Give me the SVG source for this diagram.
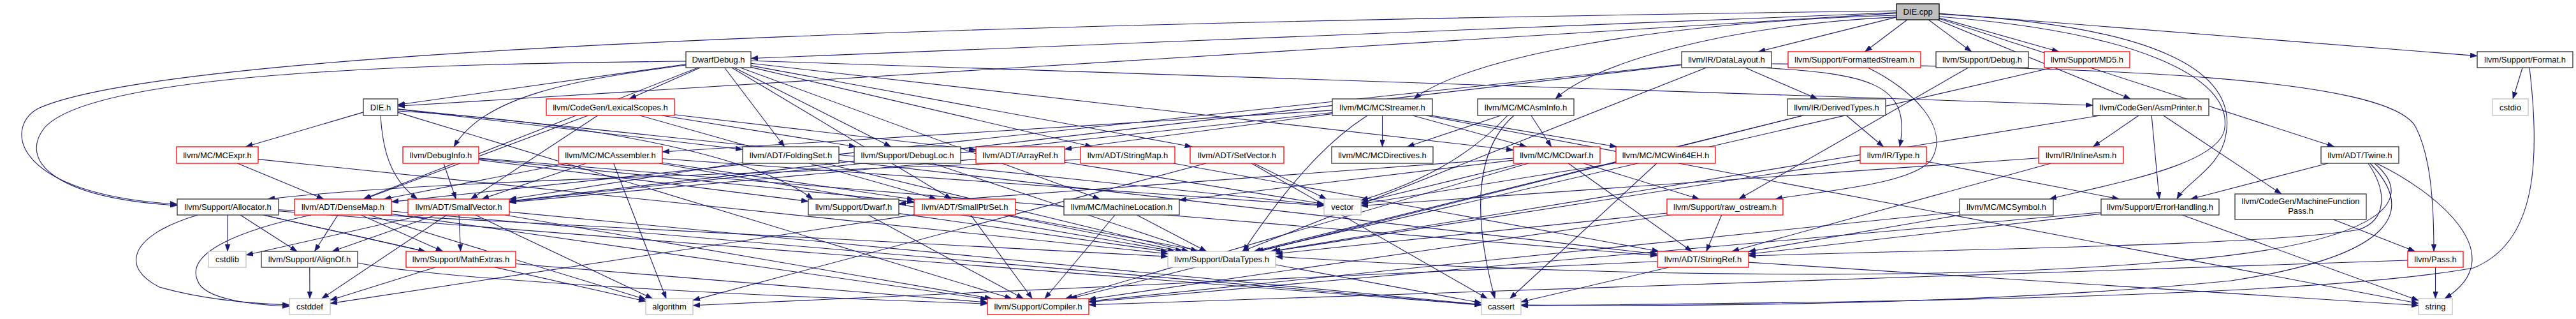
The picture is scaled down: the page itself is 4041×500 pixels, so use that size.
<svg xmlns="http://www.w3.org/2000/svg" width="4041" height="500" viewBox="0 0 4041 500">
<style>
.edges path{fill:none;stroke:#191970;stroke-width:1.1}
rect.nb{fill:#fff;stroke:#333;stroke-width:1.3}
rect.nr{fill:#fff;stroke:#ff0000;stroke-width:1.3}
rect.ng{fill:#fff;stroke:#bfbfbf;stroke-width:1.3}
rect.root{fill:#bfbfbf;stroke:#000;stroke-width:1.3}
text{font-family:"Liberation Sans",Arial,Helvetica,sans-serif;font-size:13px;fill:#000;text-anchor:middle}
</style>
<defs>
<marker id="arr" viewBox="0 0 11 8" refX="11" refY="4" markerWidth="11" markerHeight="8" markerUnits="userSpaceOnUse" orient="auto">
<path d="M0,0 L11,4 L0,8 z" fill="#191970" stroke="#191970" stroke-width="0.5"/>
</marker>
</defs>
<rect x="0" y="0" width="4041" height="500" fill="#fff"/>
<g id="edges" class="edges" marker-end="url(#arr)">
<path d="M2975,20.6 L624,166.3"/>
<path d="M2975,19.8 L1178,91.5"/>
<path d="M3042,29.3 L3661.8,230"/>
<path d="M3039,31 L3342.2,155"/>
<path d="M2975,26.9 L2758.5,81"/>
<path d="M2975,26.6 C2700,40 2500,100 2440,155"/>
<path d="M2975,24 C2600,35 2300,90 2218,155"/>
<path d="M3042,26 C3350,50 3500,120 3490,200 C3485,260 3300,290 3215,312"/>
<path d="M2975,17 C2000,30 300,60 60,170 C5,200 20,305 278,320"/>
<path d="M3025.3,31 L3092.7,81"/>
<path d="M3042,22 C3380,40 3510,110 3492,210 C3485,262 3430,285 3415,312"/>
<path d="M3042,21.1 L3886,87.6"/>
<path d="M2991.9,31 L2925.6,81"/>
<path d="M3042,28 L3229.7,81"/>
<path d="M1076,100.7 L624,164.2"/>
<path d="M1095.1,106 L569.9,312"/>
<path d="M1136.5,106 L1230.6,230"/>
<path d="M1178,102.9 L1869.7,230"/>
<path d="M1147.9,106 L1492.6,312"/>
<path d="M1178,105.4 L1713.2,230"/>
<path d="M1178,95.2 L3283,165"/>
<path d="M1098.6,106 L987.1,155"/>
<path d="M1076,102 C900,125 760,150 712,230"/>
<path d="M1161.2,106 L1725.3,312"/>
<path d="M1178,99.3 L2374,235.3"/>
<path d="M1076,96 C700,100 150,110 70,200 C30,250 80,310 278,322"/>
<path d="M1151.8,106 L1397.7,230"/>
<path d="M624,171.1 L1165,234.2"/>
<path d="M597,181 C600,230 610,280 655,312"/>
<path d="M624,174 C900,190 1180,240 1275,312"/>
<path d="M570,175.9 L385.4,230"/>
<path d="M624,170.8 L2077,321.5"/>
<path d="M624,176.1 L1587.2,468"/>
<path d="M1058,179.7 L1531,234.9"/>
<path d="M922.7,181 L571.5,312"/>
<path d="M1003.6,181 L1469.1,312"/>
<path d="M937.7,181 L738.5,312"/>
<path d="M1038.1,181 L1342.7,230"/>
<path d="M696,256 L715.2,312"/>
<path d="M751,248.9 L1434,316.6"/>
<path d="M751,250.5 L1268,315.6"/>
<path d="M751,247.9 L2600,400.6"/>
<path d="M372.5,256 L507.8,312"/>
<path d="M405,249.6 L1832,397.7"/>
<path d="M962.6,256 L1045.1,468"/>
<path d="M890.5,256 L602.3,312"/>
<path d="M919.5,256 L756,312"/>
<path d="M1039,255 L1434,312.8"/>
<path d="M1033.7,256 L1843.1,394"/>
<path d="M1039,248.8 L2077,322.4"/>
<path d="M1165,254.8 L799,312.3"/>
<path d="M1316,251.6 L2600,398.3"/>
<path d="M1294.2,256 L1864.8,394"/>
<path d="M1462.7,256 L1878.8,394"/>
<path d="M1531,249.4 L799,317.1"/>
<path d="M1670,254.2 L2077,319.8"/>
<path d="M1840.8,256 L2602.5,394"/>
<path d="M1695,250 C1200,275 700,280 420,312"/>
<path d="M1891.8,256 L1087,470.6"/>
<path d="M1963.2,256 L2333.2,468"/>
<path d="M1967,256 L2080.7,312"/>
<path d="M2090,178.4 L1670,233.8"/>
<path d="M2090,176.5 L799,315.9"/>
<path d="M2090,172.9 L1039,238"/>
<path d="M2168.5,181 L2168.5,230"/>
<path d="M2215.8,181 L2394.7,230"/>
<path d="M2245.4,181 L2536.1,230"/>
<path d="M2145,181 C2100,210 2040,260 1950,394"/>
<path d="M2237.2,181 L3794,475.5"/>
<path d="M2354.5,181 L2207.5,230"/>
<path d="M2401.9,181 L2433.6,230"/>
<path d="M2375,181 C2330,220 2300,300 2345,468"/>
<path d="M2365,181 C2320,230 2250,280 2135,314"/>
<path d="M2374,251.1 L1850,313.7"/>
<path d="M2484.2,256 L2665.6,312"/>
<path d="M2460.2,256 L2653.9,394"/>
<path d="M2388.2,256 L2135,317.5"/>
<path d="M2397.5,256 L1671.3,468"/>
<path d="M2374,248 L1410,319.3"/>
<path d="M2535,255.5 L2135,319.8"/>
<path d="M2598.9,256 L2368.6,468"/>
<path d="M2737.5,106 L2850.9,155"/>
<path d="M2760,106 C2930,115 3000,130 2980,230"/>
<path d="M2638,101 L614,316.4"/>
<path d="M2638,101.7 L799,315.3"/>
<path d="M2779,100 C3300,105 3750,120 3790,200 C3810,240 3818,300 3818,394"/>
<path d="M2676.9,106 L1948.1,394"/>
<path d="M2896.4,181 L2954.6,230"/>
<path d="M2828.4,181 L1967,394"/>
<path d="M2828.9,181 L1678.6,468"/>
<path d="M2918,251.1 L1997.1,394"/>
<path d="M3022,253.1 L3324.4,312"/>
<path d="M3393.6,181 L3578.9,304"/>
<path d="M3355,181 L3283.5,230"/>
<path d="M3294.6,181 L1992.9,394"/>
<path d="M3375.2,181 L3387.3,312"/>
<path d="M3217.4,256 L2716.9,394"/>
<path d="M3198,247.7 L2135,322.5"/>
<path d="M3715,256 C3745,300 3745,345 3700,360 C3550,385 3100,390 2743,401"/>
<path d="M3725,256 C3800,320 3720,385 3400,410 C3000,445 2400,428 2001,402"/>
<path d="M3651.8,256 L3436.5,312"/>
<path d="M3718,256 C3790,330 3760,400 3500,440 C3100,480 2600,480 2386,478"/>
<path d="M3728,256 C3820,300 3945,400 3835,468"/>
<path d="M3660.3,344 L3788.5,394"/>
<path d="M3820.5,419 L3820.5,468"/>
<path d="M3777,408 L1708,477.8"/>
<path d="M3296,335.1 L2743,398.3"/>
<path d="M3296,332.7 L1708,473.5"/>
<path d="M3423.1,337 L3794,470.9"/>
<path d="M3075,337 L2743,394.2"/>
<path d="M3074,332 L1708,472.3"/>
<path d="M2700.7,337 L2676.8,394"/>
<path d="M2619.8,337 L1708,469"/>
<path d="M2615,334 L2001,397.7"/>
<path d="M3087.7,106 L2727.8,312"/>
<path d="M2930,106 C3000,140 3060,200 3030,250 C3000,290 2850,300 2785,312"/>
<path d="M3219.8,106 L1970.7,394"/>
<path d="M3957.1,106 L3942,155"/>
<path d="M3968,106 C3985,250 3980,380 3880,420 C3600,470 2800,475 2386,479"/>
<path d="M377,337 L466,394"/>
<path d="M357,337 L357,394"/>
<path d="M310,337 C200,370 190,420 250,450 C320,470 400,476 454,478"/>
<path d="M413.2,337 L667.3,394"/>
<path d="M437,328.7 L1832,402.1"/>
<path d="M412.9,337 L1013,472.2"/>
<path d="M437,330.7 L2324,478.1"/>
<path d="M530,337 L493.5,394"/>
<path d="M566.2,337 L694.8,394"/>
<path d="M614,335.4 L1549,469.1"/>
<path d="M579,337 L1013,469.2"/>
<path d="M614,331 L2324,477.8"/>
<path d="M488,337 C380,360 290,395 310,440 C320,470 400,478 454,480"/>
<path d="M683.8,337 L521.2,394"/>
<path d="M720,337 L722.5,394"/>
<path d="M664.2,337 L386,399.8"/>
<path d="M745.9,337 L1023.6,468"/>
<path d="M792.2,337 L1555.8,468"/>
<path d="M799,332.1 L2324,477.5"/>
<path d="M700.8,337 L504.7,468"/>
<path d="M1362.2,337 L1605.3,468"/>
<path d="M1410,334.6 L1832,394.5"/>
<path d="M1522.7,337 L1619.3,468"/>
<path d="M1574.9,337 L1855.1,394"/>
<path d="M1580.8,337 L2324,474.8"/>
<path d="M1434,336.6 L518,475.6"/>
<path d="M1749,337 L1639,468"/>
<path d="M1783.4,337 L1892.6,394"/>
<path d="M485.8,419 L486,468"/>
<path d="M561,412 C700,440 1200,465 1549,476"/>
<path d="M683,419 L518,470.5"/>
<path d="M809,413.5 L1549,474"/>
<path d="M2618,419 L2386,473.3"/>
<path d="M2600,409.8 L1087,478.8"/>
<path d="M2743,411.1 L3794,478.8"/>
</g>
<g id="n-die-cpp"><rect class="root" x="2975" y="6" width="67" height="25"/><text x="3008.5" y="23">DIE.cpp</text></g>
<g id="n-dwarfdebug"><rect class="nb" x="1076" y="81" width="102" height="25"/><text x="1127" y="98">DwarfDebug.h</text></g>
<g id="n-datalayout"><rect class="nb" x="2638" y="81" width="141" height="25"/><text x="2708.5" y="98">llvm/IR/DataLayout.h</text></g>
<g id="n-formattedstream"><rect class="nr" x="2805" y="81" width="208" height="25"/><text x="2909" y="98">llvm/Support/FormattedStream.h</text></g>
<g id="n-debug"><rect class="nb" x="3037" y="81" width="145" height="25"/><text x="3109.5" y="98">llvm/Support/Debug.h</text></g>
<g id="n-md5"><rect class="nr" x="3207" y="81" width="134" height="25"/><text x="3274" y="98">llvm/Support/MD5.h</text></g>
<g id="n-format"><rect class="nb" x="3886" y="81" width="150" height="25"/><text x="3961" y="98">llvm/Support/Format.h</text></g>
<g id="n-die-h"><rect class="nb" x="570" y="155" width="54" height="26"/><text x="597" y="172.5">DIE.h</text></g>
<g id="n-lexicalscopes"><rect class="nr" x="857" y="155" width="201" height="26"/><text x="957.5" y="172.5">llvm/CodeGen/LexicalScopes.h</text></g>
<g id="n-mcstreamer"><rect class="nb" x="2090" y="155" width="157" height="26"/><text x="2168.5" y="172.5">llvm/MC/MCStreamer.h</text></g>
<g id="n-mcasminfo"><rect class="nb" x="2318" y="155" width="151" height="26"/><text x="2393.5" y="172.5">llvm/MC/MCAsmInfo.h</text></g>
<g id="n-derivedtypes"><rect class="nb" x="2804" y="155" width="154" height="26"/><text x="2881" y="172.5">llvm/IR/DerivedTypes.h</text></g>
<g id="n-asmprinter"><rect class="nb" x="3283" y="155" width="182" height="26"/><text x="3374" y="172.5">llvm/CodeGen/AsmPrinter.h</text></g>
<g id="n-cstdio"><rect class="ng" x="3910" y="155" width="56" height="26"/><text x="3938" y="172.5">cstdio</text></g>
<g id="n-mcexpr"><rect class="nr" x="277" y="230" width="128" height="26"/><text x="341" y="247.5">llvm/MC/MCExpr.h</text></g>
<g id="n-debuginfo"><rect class="nr" x="632" y="230" width="119" height="26"/><text x="691.5" y="247.5">llvm/DebugInfo.h</text></g>
<g id="n-mcassembler"><rect class="nr" x="876" y="230" width="163" height="26"/><text x="957.5" y="247.5">llvm/MC/MCAssembler.h</text></g>
<g id="n-foldingset"><rect class="nb" x="1165" y="230" width="151" height="26"/><text x="1240.5" y="247.5">llvm/ADT/FoldingSet.h</text></g>
<g id="n-debugloc"><rect class="nb" x="1340" y="230" width="167" height="26"/><text x="1423.5" y="247.5">llvm/Support/DebugLoc.h</text></g>
<g id="n-arrayref"><rect class="nr" x="1531" y="230" width="139" height="26"/><text x="1600.5" y="247.5">llvm/ADT/ArrayRef.h</text></g>
<g id="n-stringmap"><rect class="nr" x="1695" y="230" width="148" height="26"/><text x="1769" y="247.5">llvm/ADT/StringMap.h</text></g>
<g id="n-setvector"><rect class="nr" x="1867" y="230" width="147" height="26"/><text x="1940.5" y="247.5">llvm/ADT/SetVector.h</text></g>
<g id="n-mcdirectives"><rect class="nb" x="2089" y="230" width="159" height="26"/><text x="2168.5" y="247.5">llvm/MC/MCDirectives.h</text></g>
<g id="n-mcdwarf"><rect class="nr" x="2374" y="230" width="136" height="26"/><text x="2442" y="247.5">llvm/MC/MCDwarf.h</text></g>
<g id="n-mcwin64eh"><rect class="nr" x="2535" y="230" width="156" height="26"/><text x="2613" y="247.5">llvm/MC/MCWin64EH.h</text></g>
<g id="n-type"><rect class="nr" x="2918" y="230" width="104" height="26"/><text x="2970" y="247.5">llvm/IR/Type.h</text></g>
<g id="n-inlineasm"><rect class="nr" x="3198" y="230" width="133" height="26"/><text x="3264.5" y="247.5">llvm/IR/InlineAsm.h</text></g>
<g id="n-twine"><rect class="nb" x="3641" y="230" width="122" height="26"/><text x="3702" y="247.5">llvm/ADT/Twine.h</text></g>
<g id="n-allocator"><rect class="nb" x="278" y="312" width="159" height="25"/><text x="357.5" y="329">llvm/Support/Allocator.h</text></g>
<g id="n-densemap"><rect class="nr" x="462" y="312" width="152" height="25"/><text x="538" y="329">llvm/ADT/DenseMap.h</text></g>
<g id="n-smallvector"><rect class="nr" x="640" y="312" width="159" height="25"/><text x="719.5" y="329">llvm/ADT/SmallVector.h</text></g>
<g id="n-dwarf"><rect class="nb" x="1268" y="312" width="142" height="25"/><text x="1339" y="329">llvm/Support/Dwarf.h</text></g>
<g id="n-smallptrset"><rect class="nr" x="1434" y="312" width="159" height="25"/><text x="1513.5" y="329">llvm/ADT/SmallPtrSet.h</text></g>
<g id="n-machinelocation"><rect class="nb" x="1669" y="312" width="181" height="25"/><text x="1759.5" y="329">llvm/MC/MachineLocation.h</text></g>
<g id="n-vector"><rect class="ng" x="2077" y="312" width="58" height="25"/><text x="2106" y="329">vector</text></g>
<g id="n-raw-ostream"><rect class="nr" x="2615" y="312" width="182" height="25"/><text x="2706" y="329">llvm/Support/raw_ostream.h</text></g>
<g id="n-mcsymbol"><rect class="nb" x="3074" y="312" width="147" height="25"/><text x="3147.5" y="329">llvm/MC/MCSymbol.h</text></g>
<g id="n-errorhandling"><rect class="nb" x="3296" y="312" width="185" height="25"/><text x="3388.5" y="329">llvm/Support/ErrorHandling.h</text></g>
<g id="n-machinefunctionpass"><rect class="nb" x="3506" y="304" width="206" height="40"/><text x="3609" y="320">llvm/CodeGen/MachineFunction</text><text x="3609" y="335">Pass.h</text></g>
<g id="n-cstdlib"><rect class="ng" x="327" y="394" width="59" height="25"/><text x="356.5" y="411">cstdlib</text></g>
<g id="n-alignof"><rect class="nb" x="410" y="394" width="151" height="25"/><text x="485.5" y="411">llvm/Support/AlignOf.h</text></g>
<g id="n-mathextras"><rect class="nr" x="637" y="394" width="172" height="25"/><text x="723" y="411">llvm/Support/MathExtras.h</text></g>
<g id="n-datatypes"><rect class="ng" x="1832" y="394" width="169" height="25"/><text x="1916.5" y="411">llvm/Support/DataTypes.h</text></g>
<g id="n-stringref"><rect class="nr" x="2600" y="394" width="143" height="25"/><text x="2671.5" y="411">llvm/ADT/StringRef.h</text></g>
<g id="n-pass"><rect class="nr" x="3777" y="394" width="87" height="25"/><text x="3820.5" y="411">llvm/Pass.h</text></g>
<g id="n-cstddef"><rect class="ng" x="454" y="468" width="64" height="25"/><text x="486" y="485">cstddef</text></g>
<g id="n-algorithm"><rect class="ng" x="1013" y="468" width="74" height="25"/><text x="1050" y="485">algorithm</text></g>
<g id="n-compiler"><rect class="nr" x="1549" y="468" width="159" height="25"/><text x="1628.5" y="485">llvm/Support/Compiler.h</text></g>
<g id="n-cassert"><rect class="ng" x="2324" y="468" width="62" height="25"/><text x="2355" y="485">cassert</text></g>
<g id="n-string"><rect class="ng" x="3794" y="468" width="53" height="25"/><text x="3820.5" y="485">string</text></g>
</svg>
